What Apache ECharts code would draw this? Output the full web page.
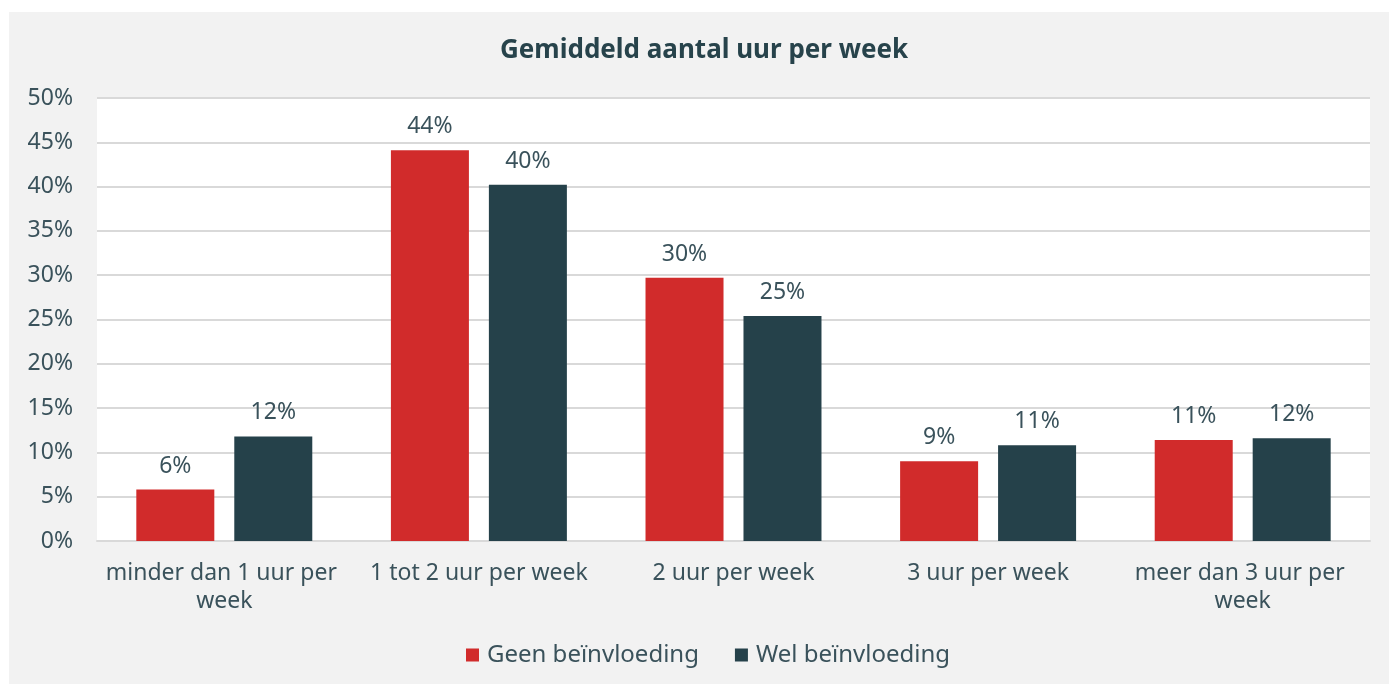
<!DOCTYPE html>
<html>
<head>
<meta charset="utf-8">
<script src="https://cdn.jsdelivr.net/npm/echarts@6/dist/echarts.min.js"></script>
<style>
html,body{margin:0;padding:0;background:#ffffff;}
#chart{position:absolute;left:9px;top:12px;width:1380px;height:672px;}
</style>
</head>
<body>
<div id="chart"></div>
<script>
const categories = ['minder dan 1 uur per week', '1 tot 2 uur per week', '2 uur per week', '3 uur per week', 'meer dan 3 uur per week'];
const seriesNames = ['Geen beïnvloeding', 'Wel beïnvloeding'];
const geenValues = [5.8, 44.1, 29.7, 9.0, 11.4];
const welValues = [11.8, 40.2, 25.4, 10.8, 11.6];
const yTicks = [0, 5, 10, 15, 20, 25, 30, 35, 40, 45, 50];

const textColor = '#3a525b';
const fontFam = '"Noto Sans", "Open Sans", sans-serif';

const chart = echarts.init(document.getElementById('chart'));
chart.setOption({
  backgroundColor: '#f2f2f2',
  animation: false,
  title: {
    text: 'Gemiddeld aantal uur per week',
    left: 486,
    top: 21,
    textStyle: { fontFamily: fontFam, fontWeight: 'bold', fontSize: 26, color: '#27434b' }
  },
  legend: {
    bottom: 12,
    left: 452,
    itemWidth: 13,
    itemHeight: 13,
    itemGap: 36,
    icon: 'rect',
    textStyle: { fontFamily: fontFam, fontSize: 24, color: textColor, padding: [0, 0, 0, 3] },
    data: seriesNames
  },
  grid: {
    left: 88, right: 19, top: 86, bottom: 143,
    show: true, backgroundColor: '#ffffff', borderWidth: 0,
    containLabel: false
  },
  xAxis: {
    type: 'category',
    data: categories,
    axisTick: { show: false },
    axisLine: { lineStyle: { color: '#d9d9d9', width: 2 } },
    axisLabel: {
      fontFamily: fontFam, fontSize: 23, color: textColor, margin: 18,
      width: 250, overflow: 'break', lineHeight: 28, interval: 0
    }
  },
  yAxis: {
    type: 'value',
    min: 0, max: 50, interval: 5,
    axisLine: { show: false },
    axisTick: { show: false },
    splitLine: { lineStyle: { color: '#d9d9d9', width: 2 } },
    axisLabel: {
      fontFamily: fontFam, fontSize: 23, color: textColor, margin: 24,
      formatter: function (v) { return yTicks.indexOf(v) >= 0 ? v + '%' : ''; }
    }
  },
  series: [
    {
      name: seriesNames[0], type: 'bar', data: geenValues,
      barWidth: 78, barGap: '25.6%',
      itemStyle: { color: '#d12b2b' },
      label: { show: true, position: 'top', distance: 12, fontFamily: fontFam, fontSize: 23, color: textColor,
        formatter: p => Math.round(p.value) + '%' }
    },
    {
      name: seriesNames[1], type: 'bar', data: welValues,
      barWidth: 78,
      itemStyle: { color: '#25414a' },
      label: { show: true, position: 'top', distance: 12, fontFamily: fontFam, fontSize: 23, color: textColor,
        formatter: p => Math.round(p.value) + '%' }
    }
  ]
});
</script>
</body>
</html>
